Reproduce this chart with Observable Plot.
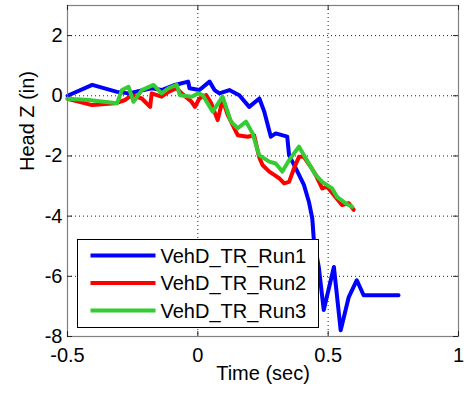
<!DOCTYPE html>
<html>
<head>
<meta charset="utf-8">
<script src="https://cdn.jsdelivr.net/npm/d3@7"></script>
<script src="https://cdn.jsdelivr.net/npm/@observablehq/plot@0.6"></script>
<style>
  html, body { margin: 0; padding: 0; background: white; }
  #chart { width: 466px; height: 397px; }
</style>
</head>
<body>
<div id="chart"></div>
<script>
// ---- data ----
const seriesNames = ["VehD_TR_Run1", "VehD_TR_Run2", "VehD_TR_Run3"];
const seriesColors = ["#0000ff", "#ff0000", "#33cc33"];

const run1T = [-0.5, -0.405, -0.31, -0.266, -0.177, -0.139, -0.088, -0.037, -0.032, 0.006, 0.045, 0.064, 0.083, 0.121, 0.159, 0.197, 0.236, 0.255, 0.28, 0.299, 0.343, 0.35, 0.376, 0.407, 0.426, 0.439, 0.445, 0.464, 0.483, 0.522, 0.548, 0.579, 0.61, 0.636, 0.77];
const run1Z = [0.0, 0.36, 0.13, 0.08, 0.25, 0.19, 0.36, 0.47, 0.25, 0.19, 0.47, 0.19, 0.08, 0.19, 0.02, -0.37, -0.09, -0.53, -1.36, -1.25, -1.36, -1.97, -2.41, -2.96, -3.52, -4.07, -4.79, -5.69, -7.12, -5.69, -7.79, -6.69, -6.13, -6.63, -6.63];

const run2T = [-0.5, -0.406, -0.317, -0.279, -0.253, -0.215, -0.183, -0.177, -0.139, -0.113, -0.081, -0.062, -0.024, -0.011, 0.006, 0.032, 0.051, 0.076, 0.095, 0.115, 0.153, 0.191, 0.216, 0.235, 0.248, 0.274, 0.293, 0.312, 0.331, 0.35, 0.369, 0.388, 0.407, 0.433, 0.452, 0.477, 0.496, 0.528, 0.553, 0.579, 0.598];
const run2Z = [-0.1, -0.31, -0.25, -0.14, 0.02, -0.09, -0.37, 0.08, -0.03, 0.13, 0.25, 0.08, -0.2, -0.37, -0.09, 0.02, -0.24, -0.81, -0.14, -0.64, -1.31, -1.36, -1.31, -2.03, -2.3, -2.52, -2.63, -2.74, -2.91, -2.86, -2.41, -2.03, -2.03, -2.36, -2.63, -3.08, -3.02, -3.36, -3.63, -3.57, -3.79];

const run3T = [-0.5, -0.418, -0.31, -0.291, -0.266, -0.247, -0.215, -0.17, -0.139, -0.113, -0.081, -0.069, -0.024, 0.002, 0.019, 0.057, 0.095, 0.127, 0.153, 0.185, 0.21, 0.235, 0.274, 0.299, 0.324, 0.35, 0.388, 0.414, 0.452, 0.477, 0.515, 0.534, 0.566, 0.592];
const run3Z = [-0.1, -0.14, -0.25, 0.19, 0.3, -0.2, 0.19, 0.36, 0.08, 0.25, 0.36, 0.02, -0.03, 0.08, 0.02, -0.53, -0.03, -0.86, -1.08, -0.86, -1.25, -1.97, -2.19, -2.25, -2.52, -2.14, -1.69, -2.08, -2.63, -2.86, -3.08, -3.36, -3.57, -3.69];

const xTicks = [-0.5, 0, 0.5, 1];
const yTicks = [-8, -6, -4, -2, 0, 2];
const xLabel = "Time (sec)";
const yLabel = "Head Z (in)";

// ---- build table ----
const runsT = [run1T, run2T, run3T];
const runsZ = [run1Z, run2Z, run3Z];
const rows = [];
runsT.forEach((ts, i) => ts.forEach((t, j) => rows.push({series: seriesNames[i], t, z: runsZ[i][j]})));

const W = 466, H = 397;
const mL = 67, mR = 8, mT = 5, mB = 61;
const innerW = W - mL - mR, innerH = H - mT - mB;
const tickLen = 5;
const font = "'Liberation Sans', Arial, sans-serif";

const chart = Plot.plot({
  width: W, height: H,
  marginLeft: mL, marginRight: mR, marginTop: mT, marginBottom: mB,
  style: {fontFamily: font, fontSize: "20px", color: "black", background: "white"},
  x: {domain: [-0.5, 1]},
  y: {domain: [-8, 3]},
  color: {domain: seriesNames, range: seriesColors},
  marks: [
    Plot.ruleX(xTicks, {x: d => d, stroke: "#222", strokeDasharray: "1,3", strokeWidth: 1}),
    Plot.ruleY(yTicks, {y: d => d, stroke: "#222", strokeDasharray: "1,3", strokeWidth: 1}),
    Plot.line(rows, {x: "t", y: "z", z: "series", stroke: "series", strokeWidth: 4, strokeLinejoin: "round", strokeLinecap: "round"}),
    Plot.frame({stroke: "#808080", strokeWidth: 1.2}),
    Plot.tickX(xTicks, {x: d => d, insetTop: innerH - tickLen, stroke: "#222"}),
    Plot.tickX(xTicks, {x: d => d, insetBottom: innerH - tickLen, stroke: "#222"}),
    Plot.tickY(yTicks, {y: d => d, insetRight: innerW - tickLen, stroke: "#222"}),
    Plot.tickY(yTicks, {y: d => d, insetLeft: innerW - tickLen, stroke: "#222"}),
    Plot.axisX(xTicks, {anchor: "bottom", tickSize: 0, tickPadding: 11, tickFormat: d => String(d), label: null, fontSize: 20}),
    Plot.axisY(yTicks, {anchor: "left", tickSize: 0, tickPadding: 5, tickFormat: d => String(d), label: null, fontSize: 20}),
    Plot.text([xLabel], {text: d => d, frameAnchor: "bottom", dy: 43, fontSize: 20, fill: "black"}),
    Plot.text([yLabel], {text: d => d, frameAnchor: "left", dx: -40, rotate: -90, fontSize: 20, fill: "black"})
  ]
});

// ---- legend (inside the axes, lower left) ----
const svg = d3.select(chart);
const lg = svg.append("g").attr("transform", "translate(77.5,239.5)").attr("text-anchor", "start");
lg.append("rect").attr("width", 241).attr("height", 88).attr("fill", "white").attr("stroke", "black").attr("stroke-width", 1);
seriesNames.forEach((name, i) => {
  const cy = 16 + i * 27.5;
  lg.append("line").attr("x1", 13).attr("x2", 78).attr("y1", cy).attr("y2", cy)
    .attr("stroke", seriesColors[i]).attr("stroke-width", 4);
  lg.append("text").attr("x", 83).attr("y", cy).attr("dy", "0.35em")
    .attr("text-anchor", "start")
    .attr("font-family", font).attr("font-size", 20).attr("fill", "black").text(name);
});

document.getElementById("chart").appendChild(chart);
</script>
</body>
</html>
